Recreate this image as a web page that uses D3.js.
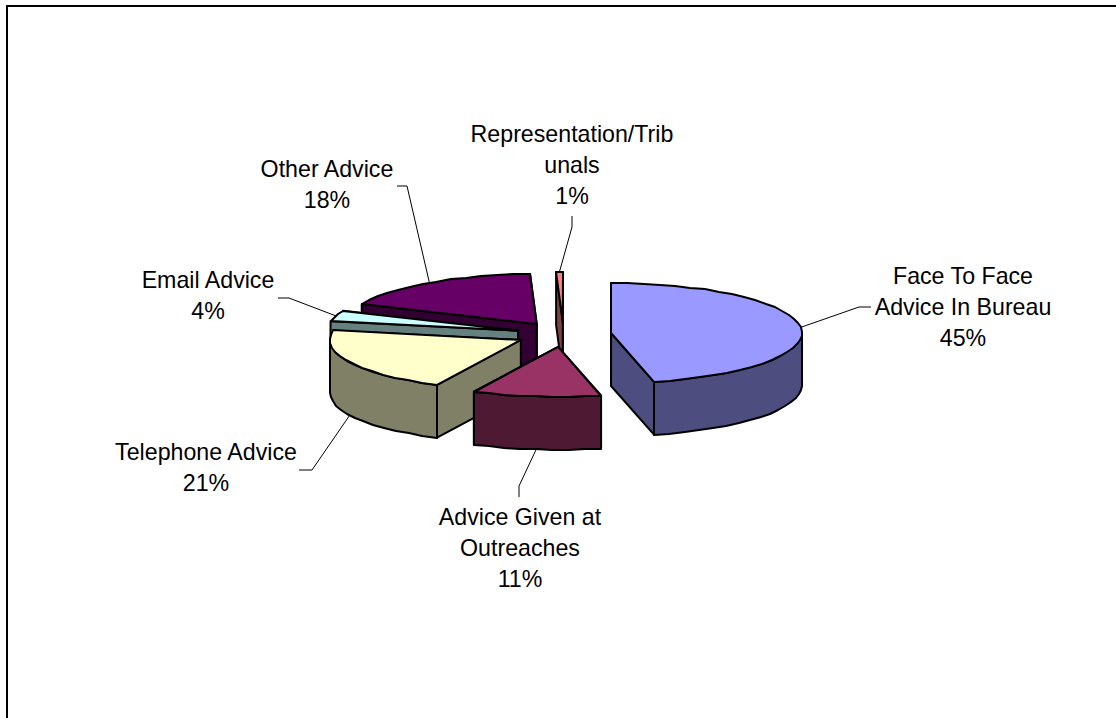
<!DOCTYPE html>
<meta charset="utf-8">
<script src="https://d3js.org/d3.v7.min.js"></script>
<style>
body { margin: 0; background: #fff; }
text { font-family: "Liberation Sans", Arial, sans-serif; font-size: 23.2px; fill: #000; text-anchor: middle; }
</style>
<div id="chart"></div>
<script>
// the data, clockwise from the top of the pie
var categories = ["Face To Face Advice In Bureau", "Advice Given at Outreaches", "Telephone Advice", "Email Advice", "Other Advice", "Representation/Tribunals"]
var values = [45, 11, 21, 4, 18, 1]
var labelLines = [["Face To Face", "Advice In Bureau"], ["Advice Given at", "Outreaches"], ["Telephone Advice"], ["Email Advice"], ["Other Advice"], ["Representation/Trib", "unals"]]
var topColors = ["#9999ff", "#993366", "#ffffcc", "#ccffff", "#660066", "#ff8080"]
var sideColors = ["#4d4d80", "#4d1933", "#808066", "#668080", "#330033", "#804040"]

// where the text sits: centre x, first baseline
var labelPos = [[963, 284], [520, 525], [206, 460], [208, 288], [327, 177], [572, 142]]
// leader lines: elbow and end, the start is worked out from the rim
var leaderPos = [
  [[859, 307], [871, 307]],
  [[519, 486], [519, 497]],
  [[312, 470], [299, 470]],
  [[289, 298], [278, 298]],
  [[407, 186], [397, 186]],
  [[572, 227], [572, 216]]
]

var width = 1116, height = 718
var cx = 563.6, cy = 334.4   // pie centre, before explosion
var rx = 191, ry = 50, depth = 53
var explode = 0.25
var deg = Math.PI / 180

// the 3-D view of the original pushes the angles round a little
var viewAngle = d3.scaleLinear()
  .domain([0, 162, 277.2, 291.6, 356.4, 360].map(function(d) { return d * deg }))
  .range([0, 167, 281, 293.6, 358, 360].map(function(d) { return d * deg }))

var pie = d3.pie().sort(null).value(function(d) { return d })
var pct = d3.format(".0%")
var total = d3.sum(values)

var slices = pie(values).map(function(d, i) {
  var a0 = viewAngle(d.startAngle), a1 = viewAngle(d.endAngle), mid = (a0 + a1) / 2
  return {
    i: i, a0: a0, a1: a1, mid: mid,
    ax: cx + explode * rx * Math.sin(mid),
    ay: cy - explode * ry * Math.cos(mid)
  }
})

function rimPoint(s, a, drop) {
  return [s.ax + rx * Math.sin(a), s.ay - ry * Math.cos(a) + (drop || 0)]
}

// points along the rim, a coarse step and whole pixels like the old chart
function rim(s, a0, a1, drop) {
  var pts = [], n = Math.max(1, Math.ceil((a1 - a0) / (5 * deg)))
  for (var k = 0; k <= n; k++) {
    var p = rimPoint(s, a0 + (a1 - a0) * k / n, drop)
    pts.push([Math.round(p[0]), Math.round(p[1])])
  }
  return pts
}

var closedLine = d3.line().curve(d3.curveLinearClosed)
var openLine = d3.line()

var svg = d3.select("#chart").append("svg")
  .attr("width", width)
  .attr("height", height)
  .style("display", "block")

// chart frame, only top and left fall inside the picture
svg.append("path")
  .attr("d", openLine([[7, height], [7, 6], [width, 6]]))
  .attr("fill", "none")
  .attr("stroke", "#000")
  .attr("stroke-width", 2)

// leader lines go under the slices
slices.forEach(function(s, i) {
  var start = rimPoint(s, s.mid, Math.cos(s.mid) < 0 ? depth : 0)
  svg.append("path")
    .attr("d", openLine([start].concat(leaderPos[i])))
    .attr("fill", "none")
    .attr("stroke", "#000")
    .attr("stroke-width", 1)
})

// paint from the back of the pie to the front
var paintOrder = [4, 5, 3, 2, 1, 0]

function piece(pts, color) {
  svg.append("path")
    .attr("d", closedLine(pts))
    .attr("fill", color)
    .attr("stroke", "#000")
    .attr("stroke-width", 2)
    .attr("stroke-linejoin", "round")
}

paintOrder.forEach(function(i) {
  var s = slices[i], apex = [s.ax, s.ay], apexLow = [s.ax, s.ay + depth]

  // the two cut faces, the one further back first
  var cuts = [s.a0, s.a1].sort(function(a, b) { return Math.cos(b) - Math.cos(a) })
  cuts.forEach(function(a) {
    piece([apex, rimPoint(s, a), rimPoint(s, a, depth), apexLow], sideColors[i])
  })

  // outer wall, only the part that faces us
  var f0 = Math.max(s.a0, 90 * deg), f1 = Math.min(s.a1, 270 * deg)
  if (f1 > f0) {
    piece(rim(s, f0, f1, 0).concat(rim(s, f0, f1, depth).reverse()), sideColors[i])
  }

  // top
  piece([apex].concat(rim(s, s.a0, s.a1, 0)), topColors[i])
})

// labels: name lines and then the percentage
slices.forEach(function(s, i) {
  var lines = labelLines[i].concat([pct(values[i] / total)])
  svg.append("text")
    .attr("data-category", categories[i])
    .selectAll("tspan")
    .data(lines)
    .enter()
    .append("tspan")
      .attr("x", labelPos[i][0])
      .attr("y", function(d, k) { return labelPos[i][1] + k * 31 })
      .text(function(d) { return d })
})
</script>
